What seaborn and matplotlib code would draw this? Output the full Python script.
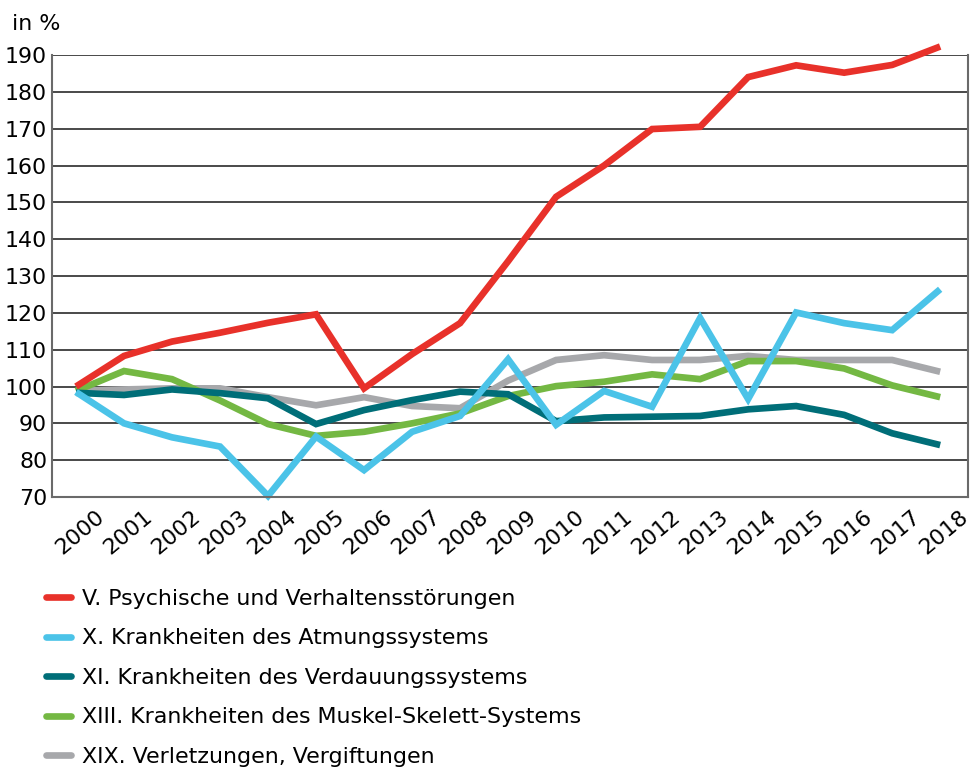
import numpy as np
import pandas as pd
import matplotlib
matplotlib.use("Agg")
import matplotlib.pyplot as plt
import matplotlib.transforms as mtransforms
from matplotlib.lines import Line2D
import seaborn as sns

years = list(range(2000, 2019))
psych = [100, 108.3, 112.2, 114.6, 117.3, 119.6, 99.5, 108.8, 117.2, 134.0, 151.5, 160.0, 169.9, 170.5, 184.0, 187.2, 185.2, 187.3, 192.3]
atmung = [98.5, 90.0, 86.2, 83.7, 70.3, 86.4, 77.3, 87.7, 92.0, 107.4, 89.6, 98.8, 94.5, 118.6, 96.6, 120.1, 117.2, 115.3, 126.4]
verdau = [98.3, 97.7, 99.2, 98.2, 96.8, 89.8, 93.6, 96.3, 98.6, 97.9, 90.6, 91.6, 91.8, 92.0, 93.8, 94.7, 92.3, 87.3, 84.1]
muskel = [98.8, 104.2, 102.0, 96.2, 89.8, 86.6, 87.7, 90.0, 92.7, 97.4, 100.1, 101.3, 103.3, 102.0, 106.9, 106.9, 104.9, 100.3, 97.1]
verletz = [98.8, 99.2, 99.5, 99.5, 97.1, 94.9, 97.1, 94.7, 94.1, 101.6, 107.2, 108.5, 107.2, 107.2, 108.3, 107.2, 107.2, 107.2, 104.0]

labels = [
    "V. Psychische und Verhaltensstörungen",
    "X. Krankheiten des Atmungssystems",
    "XI. Krankheiten des Verdauungssystems",
    "XIII. Krankheiten des Muskel-Skelett-Systems",
    "XIX. Verletzungen, Vergiftungen",
]
series = [psych, atmung, verdau, muskel, verletz]
colors = ["#E8312A", "#4BC3E8", "#006E78", "#74B843", "#A7A8AB"]
yticks = list(range(70, 191, 10))

sns.set_theme(style="white")
plt.rcParams["font.family"] = ["DejaVu Sans"]
FS = 15.9
TXT = "#000000"

df = pd.DataFrame({
    "Jahr": np.tile(np.arange(len(years)), len(labels)),
    "Wert": np.concatenate([np.array(s, dtype=float) for s in series]),
    "Gruppe": np.repeat(labels, len(years)),
})

fig = plt.figure(figsize=(9.74, 7.69), dpi=100)
ax = fig.add_axes([52/974, 1-497/769, (968-52)/974, (497-55)/769])

for lab, col in reversed(list(zip(labels, colors))):
    sub = df[df["Gruppe"] == lab]
    sns.lineplot(data=sub, x="Jahr", y="Wert", color=col, linewidth=4.8,
                 ax=ax, legend=False, clip_on=False, solid_capstyle="butt",
                 solid_joinstyle="miter")

ax.set_ylim(70, 190)
ax.set_xlim(-0.5, 18.58)
ax.set_yticks(yticks)
ax.set_yticklabels([str(t) for t in yticks], fontsize=FS, color=TXT)
ax.set_xticks(range(len(years)))
ax.set_xticklabels([str(y) for y in years], fontsize=FS, rotation=40,
                   ha="right", va="top", rotation_mode="anchor", color=TXT)
ax.tick_params(axis="y", length=0, pad=3.5)
ax.tick_params(axis="x", length=0, pad=7)
offset = mtransforms.ScaledTranslation(19/100, 0, fig.dpi_scale_trans)
for t in ax.get_xticklabels():
    t.set_transform(t.get_transform() + offset)
ax.set_xlabel("")
ax.set_ylabel("")
for yv in yticks:
    ax.axhline(yv, color="#3a3a3a", linewidth=1.3, zorder=0)
for s in ["left", "right", "bottom"]:
    ax.spines[s].set_visible(True)
    ax.spines[s].set_color("#6a6a6a")
    ax.spines[s].set_linewidth(1.5)
ax.spines["top"].set_visible(False)

fig.text(12/974, 1-24/769, "in %", fontsize=FS, va="center", ha="left", color=TXT)

handles = [Line2D([0], [0], color=c, linewidth=4.8, solid_capstyle="round") for c in colors]
leg = fig.legend(handles, labels, loc="upper left", bbox_to_anchor=(46/974, 1-589/769),
                 frameon=False, fontsize=FS, handlelength=1.15, handletextpad=0.5,
                 labelspacing=0.88, borderaxespad=0, borderpad=0)
for t in leg.get_texts():
    t.set_color(TXT)

fig.savefig("out.png", dpi=100, facecolor="white")
